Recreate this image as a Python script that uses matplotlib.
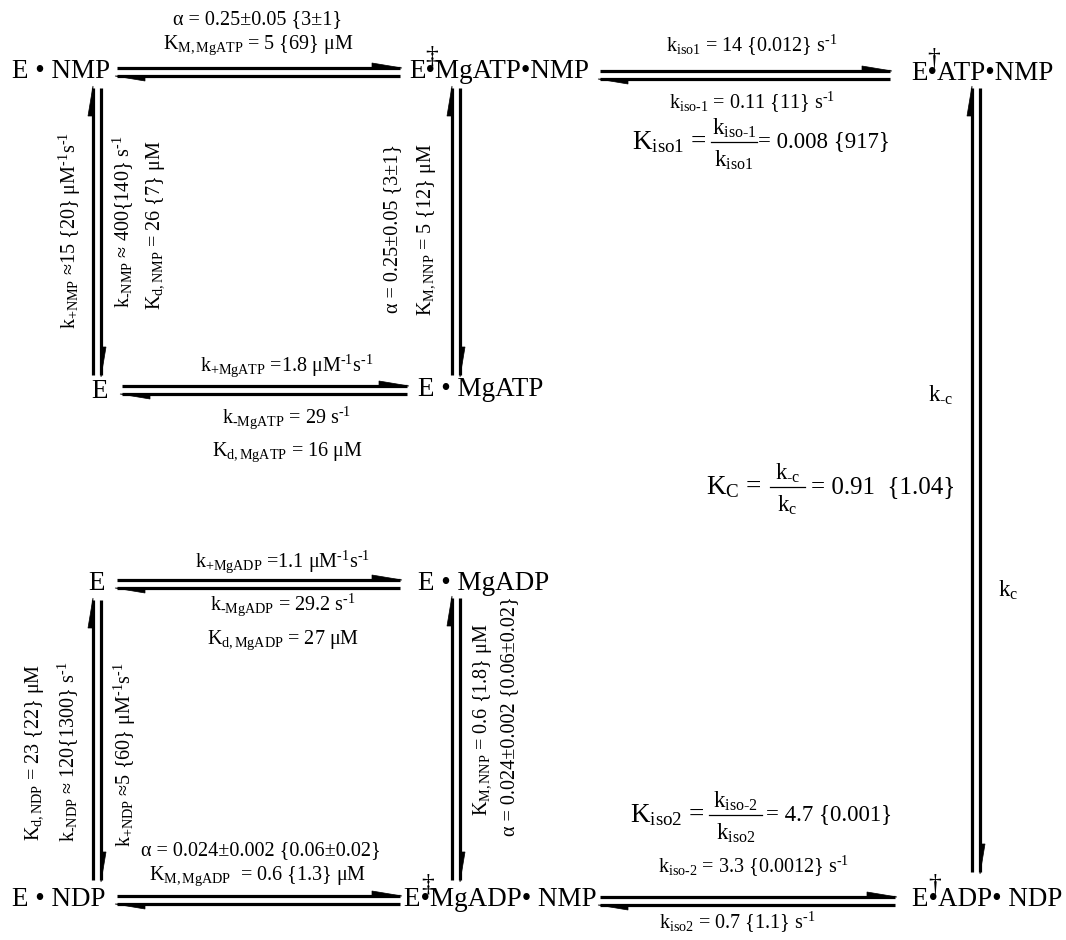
import matplotlib
matplotlib.use('Agg')
import matplotlib.pyplot as plt
from matplotlib.patches import Polygon

plt.rcParams['font.family'] = ['Liberation Serif', 'DejaVu Serif']
plt.rcParams['mathtext.fontset'] = 'custom'
plt.rcParams['mathtext.rm'] = 'Liberation Serif'
plt.rcParams['mathtext.it'] = 'Liberation Serif:italic'
plt.rcParams['mathtext.default'] = 'regular'

# ---------------- data (labels of the kinetic scheme) ----------------
# 'HY' is a placeholder for a short text hyphen inside sub/superscripts
species = ['E • NMP', 'E•MgATP•NMP', 'E•ATP•NMP', 'E', 'E • MgATP',
           'E', 'E • MgADP', 'E • NDP', 'E•MgADP• NMP', 'E•ADP• NDP']
marks = ['‡', '†', '‡', '†']

top_left_h = ['α = 0.25±0.05 {3±1}', 'K$_{M,MgATP}$ = 5 {69} μM']
top_right_h = ['k$_{iso1}$ = 14 {0.012} s$^{HY1}$', 'k$_{isoHY1}$ = 0.11 {11} s$^{HY1}$']
kiso1 = ['K$_{iso1}$ =', 'k$_{isoHY1}$', 'k$_{iso1}$', '= 0.008 {917}']
left_top_v = ['k$_{+NMP}$ ≈15 {20} μM$^{HY1}$s$^{HY1}$',
              'k$_{HYNMP}$ ≈ 400{140} s$^{HY1}$',
              'K$_{d,NMP}$ = 26 {7} μM']
mid_top_v = ['α = 0.25±0.05 {3±1}', 'K$_{M,NNP}$ = 5 {12} μM']
row2_h = ['k$_{+MgATP}$ =1.8 μM$^{HY1}$s$^{HY1}$', 'k$_{HYMgATP}$ = 29 s$^{HY1}$',
          'K$_{d,MgATP}$ = 16 μM']
right_v = ['k$_{HYc}$', 'k$_{c}$']
kc = ['K$_{C}$ =', 'k$_{HYc}$', 'k$_{c}$', '= 0.91  {1.04}']
row3_h = ['k$_{+MgADP}$ =1.1 μM$^{HY1}$s$^{HY1}$', 'k$_{HYMgADP}$ = 29.2 s$^{HY1}$',
          'K$_{d,MgADP}$ = 27 μM']
left_bot_v = ['K$_{d,NDP}$ = 23 {22} μM', 'k$_{HYNDP}$ ≈ 120{1300} s$^{HY1}$',
              'k$_{+NDP}$ ≈5 {60} μM$^{HY1}$s$^{HY1}$']
mid_bot_v = ['K$_{M,NNP}$ = 0.6 {1.8} μM', 'α = 0.024±0.002 {0.06±0.02}']
bot_left_h = ['α = 0.024±0.002 {0.06±0.02}', 'K$_{M,MgADP}$  = 0.6 {1.3} μM']
kiso2 = ['K$_{iso2}$ =', 'k$_{isoHY2}$', 'k$_{iso2}$', '= 4.7 {0.001}']
bot_right_h = ['k$_{isoHY2}$ = 3.3 {0.0012} s$^{HY1}$', 'k$_{iso2}$ = 0.7 {1.1} s$^{HY1}$']

# ---------------- figure ----------------
W, H = 1066, 940
fig = plt.figure(figsize=(W / 100, H / 100), dpi=100)
ax = fig.add_axes([0, 0, 1, 1])
ax.set_xlim(0, W)
ax.set_ylim(H, 0)
ax.axis('off')

LW = 2.3
SP = 19.5   # species font size
LB = 14.5   # label font size


def fix(s):
    # '\u2010' renders as a short text hyphen (not a long minus) inside math
    return s.replace('HY', '\u2010')


def harpoon(x0, y0, x1, y1, side, head=28, width=5):
    ax.plot([x0, x1], [y0, y1], color='k', lw=LW, solid_capstyle='butt')
    dx, dy = x1 - x0, y1 - y0
    L = (dx * dx + dy * dy) ** 0.5
    ux, uy = dx / L, dy / L
    nx, ny = side
    bx, by = x1 - head * ux, y1 - head * uy
    ax.add_patch(Polygon([(x1 + 2 * ux, y1 + 2 * uy), (bx + width * nx, by + width * ny),
                          (bx, by)], closed=True, fc='k', ec='k', lw=0.5))


def eq_h(xl, xr, y, gap=4):
    harpoon(xl, y - gap, xr, y - gap, (0, -1))
    harpoon(xr, y + gap, xl, y + gap, (0, 1))


def eq_v(x, yt, yb, gap=4):
    harpoon(x - gap, yb, x - gap, yt, (-1, 0))
    harpoon(x + gap, yt, x + gap, yb, (1, 0))


def t(x, y, s, size=LB, ha='center', rot=0):
    ax.text(x, y, fix(s), fontsize=size, ha=ha, va='center', rotation=rot,
            rotation_mode='anchor')


def frac(xl, y, parts, lx0, lx1, xr, size=LB + 2, rsize=LB + 2):
    numx = (lx0 + lx1) / 2
    t(xl, y, parts[0], size=size + 3, ha='right')
    t(numx, y - 14, parts[1], size=size)
    ax.plot([lx0, lx1], [y, y], color='k', lw=0.9)
    t(numx, y + 18, parts[2], size=size)
    t(xr, y, parts[3], size=rsize, ha='left')


# species
t(12, 72, species[0], SP, 'left')
t(409, 72, species[1], SP, 'left')
t(911, 74, species[2], SP, 'left')
t(100, 392, species[3], SP)
t(418, 390, species[4], SP, 'left')
t(97, 584, species[5], SP)
t(418, 583, species[6], SP, 'left')
t(12, 900, species[7], SP, 'left')
t(404, 900, species[8], SP, 'left')
t(912, 900, species[9], SP, 'left')
t(432, 56, marks[0], SP - 1)
t(934, 58, marks[1], SP - 1)
t(428, 884, marks[2], SP - 1)
t(935, 884, marks[3], SP - 1)

# arrows
eq_h(117, 400, 72)
eq_h(600, 890, 75)
eq_h(122, 407, 390)
eq_h(117, 400, 584)
eq_h(117, 400, 900)
eq_h(600, 895, 901)
eq_v(97, 88, 375)
eq_v(456, 88, 375)
eq_v(976, 88, 872)
eq_v(97, 600, 880)
eq_v(456, 598, 880)

# labels, top row
t(258, 20, top_left_h[0])
t(258, 45, top_left_h[1])
t(752, 45, top_right_h[0])
t(752, 102, top_right_h[1])
frac(707, 142, kiso1, 711, 757, 758, rsize=16.5)

# left / middle verticals top
t(70, 231, left_top_v[0], rot=90)
t(123, 222, left_top_v[1], rot=90)
t(156, 225, left_top_v[2], rot=90)
t(393, 228, mid_top_v[0], rot=90)
t(427, 230, mid_top_v[1], rot=90)

# row 2
t(287, 366, row2_h[0])
t(287, 418, row2_h[1])
t(287, 452, row2_h[2])

# right vertical
t(941, 395, right_v[0], size=LB + 2)
t(1008, 590, right_v[1], size=LB + 2)
frac(762, 487, kc, 770, 805, 811, rsize=18)

# row 3
t(283, 562, row3_h[0])
t(283, 605, row3_h[1])
t(283, 640, row3_h[2])

# bottom verticals
t(35, 752, left_bot_v[0], rot=90)
t(68, 752, left_bot_v[1], rot=90)
t(125, 755, left_bot_v[2], rot=90)
t(483, 720, mid_bot_v[0], rot=90)
t(510, 716, mid_bot_v[1], rot=90)

# bottom row
t(261, 851, bot_left_h[0])
t(258, 876, bot_left_h[1])
frac(705, 815, kiso2, 709, 762, 766, rsize=16.5)
t(754, 866, bot_right_h[0])
t(737, 922, bot_right_h[1])

fig.savefig('out.png', dpi=100)
